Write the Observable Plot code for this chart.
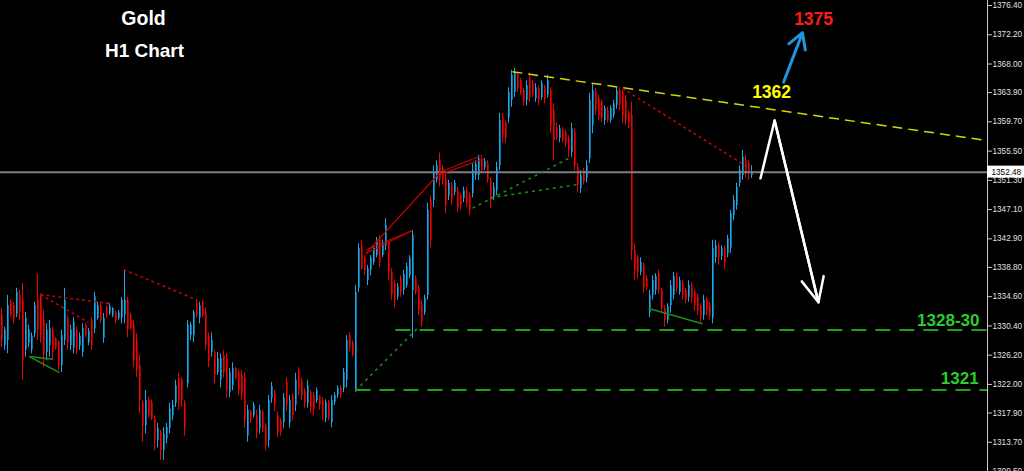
<!DOCTYPE html>
<html><head><meta charset="utf-8">
<script src="https://cdn.jsdelivr.net/npm/d3@7"></script>
<script src="https://cdn.jsdelivr.net/npm/@observablehq/plot@0.6"></script>
<style>html,body{margin:0;padding:0;background:#000;overflow:hidden}</style>
</head><body><div id="chart"></div>
<script>
// Gold H1 candles (bar index 0..250), prices in USD
const open = [
1331.9,1327.6,1328.3,1333.8,1333.3,1332.1,1334.8,1334.1,1326.9,1327.9,
1326.9,1329.3,1334.1,1334.5,1331.2,1326.6,1327.6,1329.8,1328.6,1328.0,
1324.7,1328.3,1331.5,1327.6,1327.2,1329.8,1327.5,1326.6,1330.5,1328.0,
1331.2,1330.0,1331.5,1333.3,1328.6,1333.0,1332.2,1331.9,1332.3,1331.5,
1331.5,1331.9,1334.1,1331.9,1330.5,1328.3,1324.7,1319.3,1316.1,1319.7,
1319.4,1317.0,1314.0,1315.1,1312.5,1314.2,1315.7,1317.5,1319.3,1322.9,
1322.6,1319.3,1322.1,1329.0,1329.0,1333.6,1331.5,1333.8,1332.3,1328.9,
1326.6,1326.6,1323.7,1322.6,1326.2,1325.7,1320.8,1321.8,1324.3,1323.7,
1323.3,1322.9,1314.6,1318.0,1317.5,1317.5,1315.7,1318.0,1316.1,1314.0,
1320.0,1320.7,1317.5,1316.8,1316.5,1322.3,1316.5,1320.3,1319.0,1324.0,
1322.3,1321.1,1319.3,1320.8,1320.4,1319.7,1320.3,1319.7,1317.1,1319.4,
1316.5,1319.4,1320.4,1321.5,1321.4,1322.6,1329.0,1328.0,1321.1,1335.8,
1341.9,1340.1,1336.9,1338.4,1339.5,1340.5,1342.9,1340.5,1341.9,1342.4,
1338.1,1336.5,1334.5,1337.2,1335.5,1336.2,1337.6,1335.5,1337.2,1335.8,
1333.6,1332.3,1334.8,1348.4,1348.4,1351.3,1354.1,1353.0,1351.6,1349.0,
1350.6,1349.6,1349.8,1349.1,1348.7,1349.8,1349.1,1349.4,1352.0,1352.0,
1354.1,1353.1,1353.7,1351.3,1348.8,1349.8,1353.4,1360.3,1359.5,1360.2,
1362.8,1363.9,1366.5,1365.6,1364.2,1362.8,1365.9,1365.2,1363.0,1364.5,
1363.2,1364.6,1363.5,1364.2,1361.3,1358.9,1357.3,1358.5,1358.2,1357.3,
1355.3,1358.2,1353.1,1350.1,1352.7,1351.6,1354.4,1359.2,1363.9,1363.0,
1362.5,1359.9,1361.3,1359.9,1360.6,1362.0,1364.2,1363.9,1362.8,1360.9,
1360.6,1341.2,1340.2,1338.1,1339.1,1337.2,1332.3,1334.8,1335.5,1337.9,
1335.5,1332.9,1331.2,1333.3,1334.8,1337.6,1335.2,1336.5,1335.5,1334.5,
1336.2,1335.2,1334.5,1333.3,1331.9,1334.1,1333.3,1331.5,1340.2,1341.9,
1340.4,1341.5,1340.8,1341.6,1346.2,1347.7,1350.9,1352.0,1354.1,1353.7,
1352.0];
const high = [
1332.9,1330.2,1334.8,1334.1,1333.8,1335.8,1335.5,1336.5,1332.3,1330.5,
1329.4,1333.8,1337.9,1335.0,1332.6,1330.7,1331.2,1330.2,1328.7,1328.3,
1329.8,1335.8,1331.9,1330.5,1331.6,1330.2,1329.4,1330.7,1330.7,1330.0,
1331.6,1335.2,1333.8,1333.6,1332.2,1333.3,1333.6,1333.0,1332.6,1332.6,
1334.5,1338.4,1334.5,1332.2,1331.2,1329.3,1326.2,1319.7,1321.1,1320.1,
1319.8,1317.5,1316.4,1315.4,1315.8,1316.4,1319.3,1319.7,1322.6,1323.6,
1323.0,1319.7,1331.2,1330.9,1332.6,1334.1,1333.8,1334.1,1333.0,1329.4,
1329.4,1326.9,1326.6,1326.4,1326.9,1326.4,1324.3,1325.1,1324.4,1324.0,
1324.0,1323.7,1319.0,1318.3,1319.4,1318.3,1319.0,1318.3,1316.4,1320.4,
1322.3,1321.1,1318.0,1317.1,1320.7,1322.9,1320.4,1320.7,1323.6,1324.4,
1322.9,1321.4,1322.6,1321.1,1320.8,1321.5,1320.4,1320.1,1319.8,1319.7,
1320.4,1320.8,1321.8,1321.8,1324.3,1329.0,1329.4,1328.3,1336.2,1342.2,
1342.7,1340.5,1339.1,1340.5,1341.9,1343.1,1343.4,1342.7,1345.8,1342.7,
1338.6,1336.9,1336.5,1337.6,1338.4,1339.4,1340.5,1344.1,1337.6,1336.2,
1334.1,1334.8,1348.0,1349.1,1353.4,1354.1,1355.2,1353.4,1352.3,1351.3,
1351.0,1351.3,1350.3,1349.4,1350.3,1350.3,1349.5,1353.7,1354.1,1354.9,
1354.6,1354.4,1354.1,1351.7,1350.9,1353.9,1360.9,1360.9,1359.9,1364.6,
1367.1,1367.4,1366.8,1365.9,1364.5,1365.6,1366.6,1365.6,1365.2,1364.9,
1365.6,1364.9,1366.4,1364.6,1362.3,1359.5,1359.2,1358.9,1358.5,1357.7,
1359.5,1358.7,1353.7,1352.7,1353.0,1354.1,1363.8,1365.2,1364.5,1363.5,
1362.8,1362.0,1361.8,1362.0,1362.8,1364.6,1364.6,1364.2,1363.5,1361.3,
1362.5,1342.2,1340.5,1340.2,1339.4,1337.6,1335.5,1337.6,1337.9,1338.4,
1335.8,1333.3,1333.6,1336.9,1338.1,1337.9,1337.4,1336.9,1335.8,1336.9,
1336.6,1335.5,1335.0,1333.6,1334.8,1334.5,1333.8,1342.7,1342.7,1342.4,
1341.9,1341.9,1343.4,1347.0,1349.1,1350.9,1353.4,1355.6,1354.9,1354.1,
1353.4];
const low = [
1327.3,1326.9,1326.4,1331.6,1330.7,1331.6,1331.2,1322.6,1325.9,1327.3,
1326.4,1328.7,1328.3,1327.9,1324.4,1325.4,1325.9,1325.4,1326.9,1324.0,
1323.7,1327.6,1326.9,1326.9,1326.4,1326.2,1326.9,1325.9,1328.7,1327.6,
1326.9,1329.3,1331.2,1330.7,1327.9,1331.5,1331.9,1331.6,1330.7,1331.2,
1330.7,1330.7,1328.7,1329.8,1324.4,1323.0,1317.8,1313.7,1314.9,1317.2,
1316.8,1312.5,1312.9,1311.1,1311.1,1313.5,1314.9,1316.8,1318.7,1318.3,
1318.7,1314.6,1321.5,1328.3,1328.0,1331.5,1330.7,1331.6,1326.9,1324.4,
1325.9,1322.1,1323.3,1321.5,1322.9,1320.0,1320.1,1321.1,1322.6,1320.4,
1319.7,1315.7,1313.7,1316.4,1317.2,1314.2,1314.9,1315.1,1312.5,1312.9,
1319.3,1318.1,1314.4,1314.6,1315.7,1318.1,1315.7,1316.8,1318.1,1320.4,
1319.7,1318.6,1318.6,1317.8,1317.5,1319.3,1318.3,1316.8,1316.5,1316.8,
1315.8,1319.0,1320.0,1320.0,1320.8,1321.5,1326.6,1325.9,1320.8,1335.2,
1338.4,1337.6,1336.2,1337.6,1339.1,1340.2,1338.8,1340.2,1341.2,1336.9,
1334.1,1333.0,1334.1,1334.5,1334.8,1335.8,1337.2,1328.6,1334.8,1331.9,
1330.2,1331.9,1334.1,1341.6,1347.4,1350.9,1350.3,1350.6,1346.5,1348.4,
1347.7,1349.1,1346.7,1347.0,1348.1,1347.4,1346.2,1348.8,1351.3,1351.3,
1352.3,1352.7,1350.9,1347.3,1348.4,1349.1,1352.7,1356.7,1356.6,1359.5,
1361.8,1363.2,1363.9,1363.5,1362.0,1362.0,1362.5,1363.2,1362.5,1362.0,
1362.8,1362.3,1363.1,1358.0,1354.1,1357.0,1356.7,1356.7,1356.0,1354.6,
1354.6,1352.7,1349.6,1349.4,1350.6,1350.9,1353.7,1358.0,1360.6,1359.9,
1359.6,1359.2,1359.5,1359.5,1360.2,1361.5,1361.3,1359.5,1359.2,1358.7,
1339.8,1336.9,1337.2,1337.6,1335.1,1335.5,1331.6,1334.1,1334.8,1335.0,
1332.2,1330.2,1330.7,1332.2,1334.1,1335.1,1334.8,1334.1,1333.6,1333.8,
1333.6,1332.6,1331.9,1330.7,1331.2,1331.9,1331.2,1330.7,1339.4,1339.1,
1339.8,1338.4,1340.2,1340.8,1345.5,1347.0,1350.3,1351.3,1351.6,1351.3,
1351.6];
const close = [
1328.3,1329.8,1333.3,1331.9,1331.2,1335.2,1332.3,1325.4,1331.5,1329.8,
1328.9,1333.3,1329.8,1329.0,1326.2,1329.8,1330.0,1326.6,1327.2,1324.7,
1329.0,1334.1,1327.9,1329.8,1330.9,1326.9,1328.9,1330.0,1329.0,1329.6,
1327.6,1334.6,1333.3,1331.2,1331.5,1331.8,1333.2,1332.9,1331.2,1332.3,
1334.1,1334.1,1329.8,1330.0,1325.4,1324.0,1319.7,1316.1,1319.7,1317.8,
1317.0,1314.0,1315.7,1312.5,1314.9,1315.8,1318.5,1319.0,1321.8,1319.7,
1319.7,1315.7,1330.5,1330.5,1332.3,1331.9,1333.3,1331.9,1327.6,1325.4,
1328.3,1323.3,1325.7,1325.7,1323.7,1321.1,1323.7,1324.3,1322.9,1321.1,
1320.4,1316.8,1318.3,1316.8,1319.0,1315.1,1318.3,1315.7,1313.2,1319.7,
1321.7,1319.0,1315.1,1315.1,1320.0,1319.0,1319.7,1317.5,1322.6,1321.4,
1320.4,1319.3,1321.8,1318.6,1318.3,1321.1,1319.0,1317.5,1319.4,1317.1,
1319.7,1320.4,1321.4,1320.4,1323.7,1328.3,1327.2,1326.2,1335.2,1341.5,
1338.6,1338.4,1338.6,1340.1,1341.5,1342.7,1339.5,1342.2,1344.8,1338.1,
1334.8,1334.1,1336.0,1335.2,1337.8,1338.9,1340.1,1343.4,1335.2,1332.6,
1330.9,1334.4,1347.0,1342.7,1352.4,1353.4,1351.3,1351.3,1347.7,1350.9,
1348.4,1350.9,1347.3,1347.7,1349.8,1348.0,1347.0,1352.7,1353.7,1354.4,
1352.7,1354.0,1351.3,1348.4,1350.3,1353.1,1359.9,1357.7,1357.3,1363.9,
1366.4,1366.8,1364.5,1363.9,1362.5,1364.9,1363.0,1363.5,1364.6,1362.8,
1365.2,1362.9,1365.6,1359.2,1357.0,1357.4,1358.7,1357.0,1356.6,1355.6,
1358.7,1353.4,1350.6,1352.0,1351.0,1353.4,1362.8,1364.2,1361.3,1360.6,
1360.2,1361.6,1359.9,1361.6,1362.3,1364.2,1362.0,1360.6,1359.9,1359.6,
1341.2,1338.4,1338.1,1339.5,1335.8,1335.9,1334.8,1336.9,1337.5,1335.5,
1332.9,1331.2,1333.2,1336.2,1337.5,1335.8,1336.9,1334.8,1334.1,1336.2,
1334.4,1333.3,1332.6,1331.5,1334.1,1332.6,1331.9,1341.5,1341.9,1340.2,
1341.5,1339.5,1342.9,1346.5,1348.4,1350.3,1352.7,1354.6,1352.4,1352.48,
1352.48];

const yTicks = [1376.40,1372.20,1368.00,1363.90,1359.70,1355.50,1351.30,1347.10,1342.90,
                1338.80,1334.60,1330.40,1326.20,1322.00,1317.90,1313.70,1309.50];
const lastPrice = 1352.48;

// Drawn studies (bar index, price)
const resistanceTrend = [{x1:170.3, y1:1366.9, x2:328.7, y2:1357.0}];
const redDotted = [{x1:207.0, y1:1364.5, x2:248.0, y2:1353.4},
                   {x1:40.7, y1:1338.5, x2:65.3, y2:1334.1},
                   {x1:13.0, y1:1334.9, x2:36.3, y2:1333.6},
                   {x1:13.0, y1:1334.9, x2:29.0, y2:1330.9}];
const redSolid = [{x1:121.4, y1:1340.8, x2:136.9, y2:1344.1},
                  {x1:121.4, y1:1340.8, x2:146.3, y2:1352.5},
                  {x1:121.4, y1:1341.3, x2:136.9, y2:1344.1},
                  {x1:146.3, y1:1352.5, x2:160.2, y2:1354.9},
                  {x1:146.3, y1:1352.2, x2:160.8, y2:1354.4}];
const greenDotted = [{x1:118.0, y1:1321.1, x2:139.0, y2:1330.2},
                     {x1:157.0, y1:1347.3, x2:189.7, y2:1354.6},
                     {x1:163.0, y1:1348.8, x2:192.0, y2:1350.7}];
const greenSolid = [{x1:9.3, y1:1326.0, x2:19.3, y2:1323.7},
                    {x1:9.3, y1:1326.0, x2:17.0, y2:1325.6},
                    {x1:215.7, y1:1332.9, x2:233.7, y2:1330.7}];
const supportLevels = [{x1:131.3, x2:328.7, y:1329.8}, {x1:118.0, x2:328.7, y:1321.2}];
const scenarioPath = [{x:253.0, y:1351.6}, {x:257.7, y:1359.9}, {x:272.3, y:1333.8}];
const upTarget = [{x1:260.7, y1:1365.4, x2:267.0, y2:1372.5}];
const targetLabels = [
  {x:270.7, y:1374.4, text:"1375", color:"#ff1a1a"},
  {x:256.7, y:1363.9, text:"1362", color:"#ffff00"}
];
const levelLabels = [
  {x:326.0, y:1331.2, text:"1328-30"},
  {x:325.7, y:1322.9, text:"1321"}
];
const titleLines = ["Gold", "H1 Chart"];

const candles = open.map((o, i) => ({i, o, h: high[i], l: low[i], c: close[i], up: close[i] >= o}));
const ups = candles.filter(d => d.up), downs = candles.filter(d => !d.up);
const xMax = 328 + 2/3;
const font = "Liberation Sans, Arial, sans-serif";

const chart = Plot.plot({
  width: 1024, height: 471,
  marginLeft: 0, marginRight: 37, marginTop: 0, marginBottom: 0,
  style: {background: "#000", color: "#ddd", fontFamily: font, fontSize: "8px"},
  x: {type: "linear", domain: [-1/3, xMax], axis: null},
  y: {domain: [1309.5, 1377.12]},
  marks: [
    // candle bodies (dark) then wicks (bright)
    Plot.ruleX(ups, {x: "i", y1: "o", y2: "c", stroke: "#0b6e99", strokeWidth: 2, dx: 0.5}),
    Plot.ruleX(downs, {x: "i", y1: "o", y2: "c", stroke: "#990000", strokeWidth: 2, dx: 0.5}),
    Plot.ruleX(ups, {x: "i", y1: "l", y2: "h", stroke: "#1aa8e8", strokeWidth: 1}),
    Plot.ruleX(downs, {x: "i", y1: "l", y2: "h", stroke: "#f00000", strokeWidth: 1}),
    // current price line
    Plot.ruleY([lastPrice], {x1: -1/3, x2: xMax, stroke: "#7c7f86", strokeWidth: 2}),
    // studies
    Plot.link(supportLevels, {x1: "x1", x2: "x2", y1: "y", y2: "y", stroke: "#1f9f1f", strokeWidth: 2, strokeDasharray: "15,9"}),
    Plot.link(resistanceTrend, {x1: "x1", y1: "y1", x2: "x2", y2: "y2", stroke: "#d6d600", strokeWidth: 1.5, strokeDasharray: "10,6"}),
    Plot.link(redDotted, {x1: "x1", y1: "y1", x2: "x2", y2: "y2", stroke: "#c80000", strokeWidth: 1.5, strokeDasharray: "3,3"}),
    Plot.link(redSolid, {x1: "x1", y1: "y1", x2: "x2", y2: "y2", stroke: "#c00000", strokeWidth: 1.2}),
    Plot.link(greenDotted, {x1: "x1", y1: "y1", x2: "x2", y2: "y2", stroke: "#1a8f1a", strokeWidth: 1.5, strokeDasharray: "3,4"}),
    Plot.link(greenSolid, {x1: "x1", y1: "y1", x2: "x2", y2: "y2", stroke: "#1a8f1a", strokeWidth: 1.5}),
    // scenario arrows
    Plot.line(scenarioPath, {x: "x", y: "y", stroke: "white", strokeWidth: 2.5, curve: "linear"}),
    Plot.arrow([scenarioPath], {x1: d => d[1].x, y1: d => d[1].y, x2: d => d[2].x, y2: d => d[2].y,
      stroke: "white", strokeWidth: 2.5, headLength: 16, headAngle: 50}),
    Plot.arrow(upTarget, {x1: "x1", y1: "y1", x2: "x2", y2: "y2", stroke: "#1e96dc", strokeWidth: 3, headLength: 12, headAngle: 60}),
    // level labels
    Plot.text(targetLabels, {x: "x", y: "y", text: "text", fill: "color", textAnchor: "middle",
      fontSize: 17.5, fontWeight: "bold", fontFamily: font}),
    Plot.text(levelLabels, {x: "x", y: "y", text: "text", fill: "#2ecc2e", textAnchor: "end",
      fontSize: 17, fontWeight: "bold", fontFamily: font}),
    // title
    Plot.text([titleLines[0]], {frameAnchor: "top-left", dx: 143, dy: 18, text: d => d, fill: "white",
      fontSize: 19.5, fontWeight: "bold", fontFamily: font, textAnchor: "middle", lineAnchor: "middle"}),
    Plot.text([titleLines[1]], {frameAnchor: "top-left", dx: 144, dy: 50, text: d => d, fill: "white",
      fontSize: 19, fontWeight: "bold", fontFamily: font, textAnchor: "middle", lineAnchor: "middle"}),
    // price axis
    Plot.ruleX([xMax], {stroke: "#c8c8c8", strokeWidth: 1}),
    Plot.axisY({ticks: yTicks, anchor: "right", tickFormat: d => d.toFixed(2), tickSize: 4, tickPadding: 1,
      stroke: "#c8c8c8", fill: "#e0e0e0", fontSize: 8.2, fontFamily: font}),
    Plot.rect([lastPrice], {x1: xMax, x2: 341.4, y1: d => d - 0.86, y2: d => d + 0.86, fill: "white"}),
    Plot.text([lastPrice], {x: xMax, y: d => d, text: d => d.toFixed(2), dx: 4, textAnchor: "start",
      fill: "black", fontSize: 8.2, fontFamily: font})
  ]
});
document.getElementById("chart").appendChild(chart);
</script>
</body></html>
